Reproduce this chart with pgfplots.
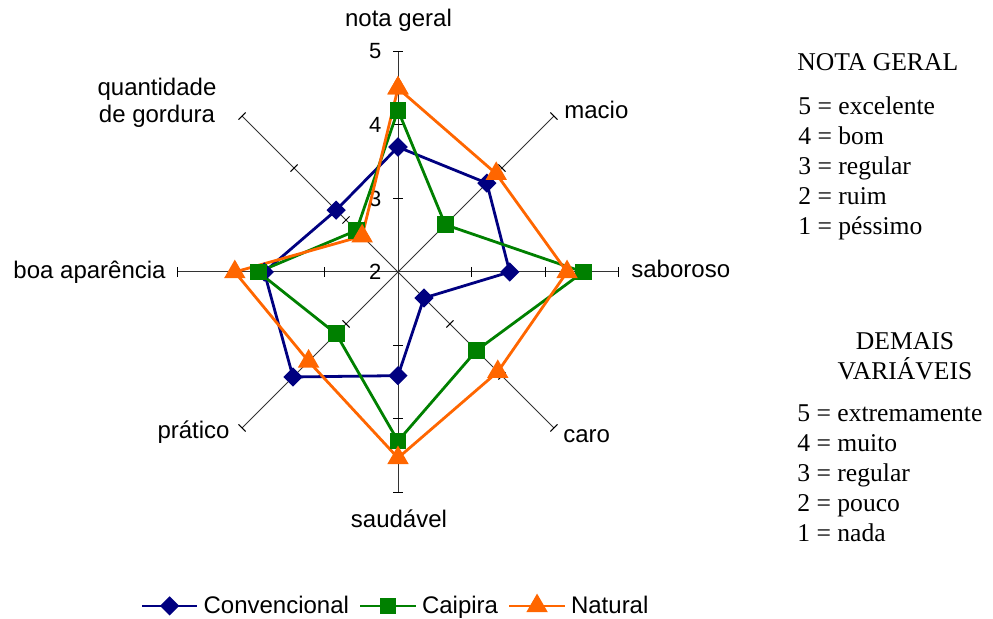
\documentclass[border=0pt]{standalone}
\usepackage{fontspec}
\setmainfont{Liberation Sans}
\newfontfamily\tnr{Liberation Serif}
\usepackage{pgfplots}
\pgfplotsset{compat=1.18}
\usepackage{pgfplotstable}
\definecolor{conv}{HTML}{000080}
\definecolor{caip}{HTML}{008000}
\definecolor{natu}{HTML}{FF6600}

% angle (deg) and value (scale 2..5, centre = 2)
\pgfplotstableread{
a v
90 3.70
45 3.71
0 3.52
-45 2.50
-90 3.41
-135 4.02
180 3.82
135 3.19
90 3.70
}\conv
\pgfplotstableread{
a v
90 4.20
45 2.91
0 4.52
-45 3.51
-90 4.30
-135 3.19
180 3.90
135 2.80
90 4.20
}\caip
\pgfplotstableread{
a v
90 4.50
45 3.89
0 4.30
-45 3.92
-90 4.53
-135 3.72
180 4.22
135 2.69
90 4.50
}\natu

\begin{document}
\begin{tikzpicture}[x=1pt,y=1pt]
\useasboundingbox (0,0) rectangle (496.5,309.5);
\begin{scope}[shift={(199,173.5)}, x=36.75pt, y=36.75pt]
\foreach \a in {90,45,0,-45,-90,-135,180,135}{
  \draw[black!80, line width=0.5pt] (0,0) -- (\a:3);
  \foreach \r in {1,2,3}{
    \draw[black, line width=0.5pt] ([shift={({\a+90}:0.068)}]\a:\r) -- ([shift={({\a-90}:0.068)}]\a:\r);
  }
}
\foreach \r/\l in {0/2,1/3,2/4,3/5}{
  \node[anchor=east, inner sep=0pt, font=\fontsize{11}{12}\selectfont] at (-0.22,\r) {\l};
}
\end{scope}

\begin{axis}[at={(0,0)}, anchor=south west,
  x=36.75pt, y=36.75pt,
  xmin=-5.415, xmax=8.095, ymin=-4.721, ymax=3.701,
  hide axis, clip=false,
  legend columns=3,
  legend style={draw=none, fill=none, at={(axis cs:-0.02,-4.544)}, anchor=center,
    font=\fontsize{12}{14}\selectfont, inner sep=0pt,
    /tikz/every odd column/.append style={column sep=0.5pt},
    /tikz/every even column/.append style={column sep=3pt}},
  legend image code/.code={\draw[mark repeat=2,mark phase=2] plot coordinates {(0cm,0cm) (0.485cm,0cm) (0.97cm,0cm)};},
]
\addplot[conv, line width=1.4pt, mark=square*, mark size=2.7pt, mark options={rotate=45, solid}, data cs=polar]
  table[x=a, y expr=\thisrow{v}-2] {\conv};
\addlegendentry{Convencional}
\addplot[caip, line width=1.4pt, mark=square*, mark size=3.5pt, mark options={solid}, data cs=polar]
  table[x=a, y expr=\thisrow{v}-2] {\caip};
\addlegendentry{Caipira}
\addplot[natu, line width=1.4pt, mark=triangle*, mark size=4.8pt, mark options={solid}, data cs=polar]
  table[x=a, y expr=\thisrow{v}-2] {\natu};
\addlegendentry{Natural}
\end{axis}

\begin{scope}[every node/.style={inner sep=0pt, font=\fontsize{12}{14}\selectfont}]
\node[anchor=base] at (199.25,296) {nota geral};
\node[anchor=base west] at (282,250.3) {macio};
\node[anchor=base west] at (315.5,170.5) {saboroso};
\node[anchor=base west] at (281.5,88) {caro};
\node[anchor=base] at (199.5,45.5) {saudável};
\node[anchor=base east] at (115,90) {prático};
\node[anchor=base east] at (83,170) {boa aparência};
\node[anchor=base] at (78.5,261.5) {quantidade};
\node[anchor=base] at (78.5,248) {de gordura};
\end{scope}

\begin{scope}[every node/.style={inner sep=0pt, font=\tnr\fontsize{12.8}{14}\selectfont}]
\node[anchor=base west] at (398.5,274) {NOTA GERAL};
\node[anchor=base west] at (399,252) {5 = excelente};
\node[anchor=base west] at (399,237) {4 = bom};
\node[anchor=base west] at (399,222) {3 = regular};
\node[anchor=base west] at (399,207) {2 = ruim};
\node[anchor=base west] at (399,192) {1 = péssimo};
\node[anchor=base] at (452.5,134.5) {DEMAIS};
\node[anchor=base] at (452.5,119.5) {VARIÁVEIS};
\node[anchor=base west] at (398.5,98.5) {5 = extremamente};
\node[anchor=base west] at (398.5,83.5) {4 = muito};
\node[anchor=base west] at (398.5,68.5) {3 = regular};
\node[anchor=base west] at (398.5,53.5) {2 = pouco};
\node[anchor=base west] at (398.5,38.5) {1 = nada};
\end{scope}
\end{tikzpicture}
\end{document}
